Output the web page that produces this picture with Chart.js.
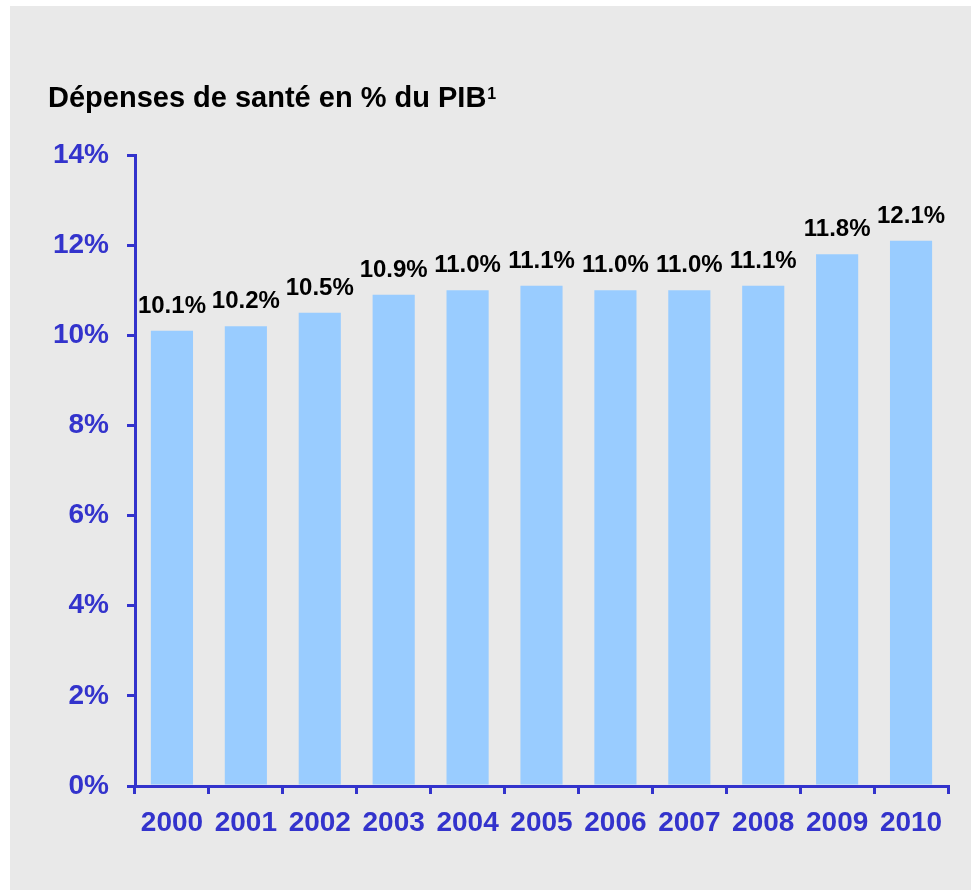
<!DOCTYPE html>
<html lang="fr">
<head>
  <meta charset="UTF-8">
  <title>Dépenses de santé</title>
  <script src="https://cdn.jsdelivr.net/npm/chart.js"></script>
  <style>
    body { margin: 0; background: #fff; }
    canvas { display: block; }
  </style>
</head>
<body>
  <canvas id="chart" width="971" height="890"></canvas>

  <script>
    const years = ['2000', '2001', '2002', '2003', '2004', '2005', '2006', '2007', '2008', '2009', '2010'];
    const spending = [10.1, 10.2, 10.5, 10.9, 11.0, 11.1, 11.0, 11.0, 11.1, 11.8, 12.1];
    const chartTitle = 'Dépenses de santé en % du PIB';
    const titleNote = '1';

    const FONT = 'Arial, "Liberation Sans", sans-serif';
    const BLUE = '#3333cc';

    // gray panel behind everything
    const panel = {
      id: 'panel',
      beforeDraw(chart) {
        const ctx = chart.ctx;
        ctx.save();
        ctx.fillStyle = '#e9e9e9';
        ctx.fillRect(10, 6, chart.width - 10, chart.height - 6);
        ctx.restore();
      }
    };

    // title (with footnote mark) + value labels above bars
    const labels = {
      id: 'labels',
      afterDraw(chart) {
        const ctx = chart.ctx;
        ctx.save();
        ctx.fillStyle = '#000';
        ctx.font = 'bold 29px ' + FONT;
        ctx.textAlign = 'left';
        ctx.textBaseline = 'alphabetic';
        ctx.fillText(chartTitle, 48, 107);
        const w = ctx.measureText(chartTitle).width;
        ctx.font = 'bold 16px ' + FONT;
        ctx.fillText(titleNote, 48 + w + 1, 99);

        ctx.font = 'bold 24px ' + FONT;
        ctx.textAlign = 'center';
        chart.getDatasetMeta(0).data.forEach((bar, i) => {
          ctx.fillText(spending[i].toFixed(1) + '%', bar.x, bar.y - 18);
        });
        ctx.restore();
      }
    };

    new Chart(document.getElementById('chart'), {
      type: 'bar',
      data: {
        labels: years,
        datasets: [{
          data: spending,
          backgroundColor: '#99ccff',
          borderWidth: 0,
          categoryPercentage: 1,
          barPercentage: 0.57
        }]
      },
      options: {
        responsive: false,
        animation: false,
        layout: { padding: { top: 155, right: 23, left: 0, bottom: 0 } },
        plugins: { legend: { display: false }, tooltip: { enabled: false } },
        scales: {
          x: {
            afterFit: s => { s.height = 104; },
            border: { color: BLUE, width: 3 },
            grid: { drawOnChartArea: false, color: BLUE, lineWidth: 3, tickLength: 8 },
            ticks: { color: BLUE, font: { family: FONT, size: 28, weight: 'bold' }, padding: 12, maxRotation: 0 }
          },
          y: {
            min: 0,
            max: 14,
            afterFit: s => { s.width = 135; },
            border: { color: BLUE, width: 3 },
            grid: { drawOnChartArea: false, color: BLUE, lineWidth: 3, tickLength: 8 },
            ticks: {
              stepSize: 2,
              color: BLUE,
              padding: 18,
              font: { family: FONT, size: 28, weight: 'bold' },
              callback: v => v + '%'
            }
          }
        }
      },
      plugins: [panel, labels]
    });
  </script>
</body>
</html>
